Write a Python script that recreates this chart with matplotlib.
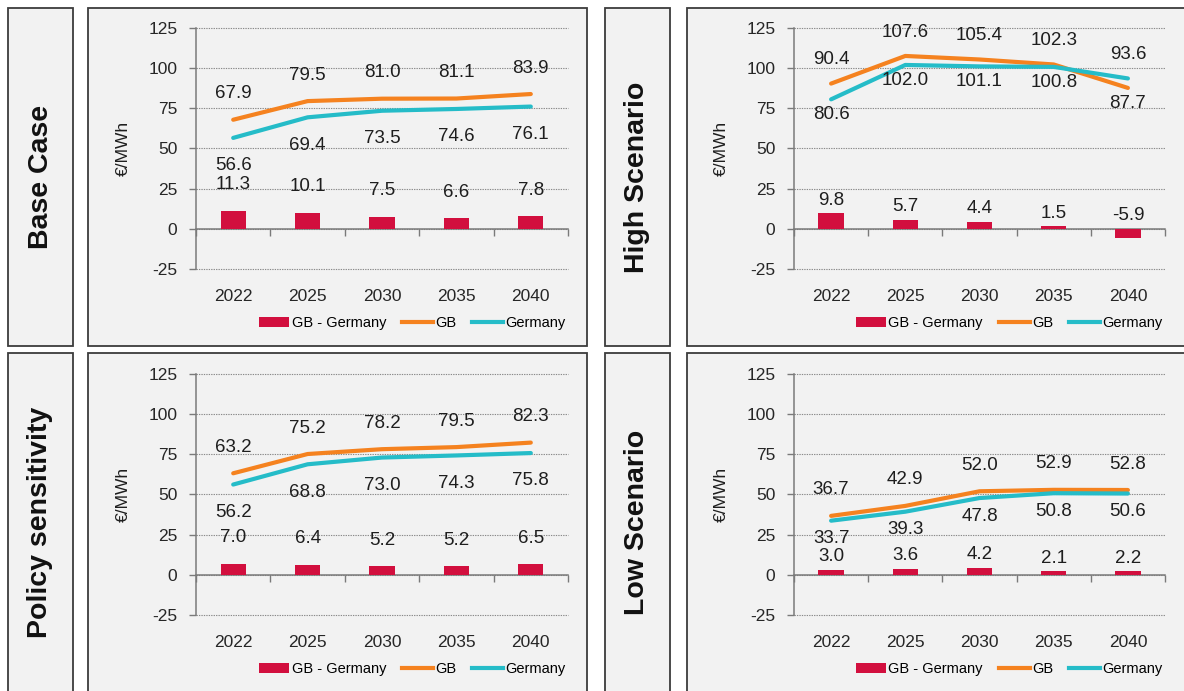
import matplotlib
matplotlib.use("Agg")
import matplotlib.pyplot as plt
from matplotlib.patches import Rectangle
from matplotlib.lines import Line2D
from matplotlib.ticker import FixedLocator

plt.rcParams['font.family'] = ['Liberation Sans', 'DejaVu Sans']

# ---- data -----------------------------------------------------------------
years = ['2022', '2025', '2030', '2035', '2040']
y_ticks = [-25, 0, 25, 50, 75, 100, 125]

base_gb = [67.9, 79.5, 81.0, 81.1, 83.9]
base_de = [56.6, 69.4, 73.5, 74.6, 76.1]
base_diff = [11.3, 10.1, 7.5, 6.6, 7.8]

high_gb = [90.4, 107.6, 105.4, 102.3, 87.7]
high_de = [80.6, 102.0, 101.1, 100.8, 93.6]
high_diff = [9.8, 5.7, 4.4, 1.5, -5.9]

policy_gb = [63.2, 75.2, 78.2, 79.5, 82.3]
policy_de = [56.2, 68.8, 73.0, 74.3, 75.8]
policy_diff = [7.0, 6.4, 5.2, 5.2, 6.5]

low_gb = [36.7, 42.9, 52.0, 52.9, 52.8]
low_de = [33.7, 39.3, 47.8, 50.8, 50.6]
low_diff = [3.0, 3.6, 4.2, 2.1, 2.2]

titles = ['Base Case', 'High Scenario', 'Policy sensitivity', 'Low Scenario']
series_names = ['GB - Germany', 'GB', 'Germany']

# ---- style ----------------------------------------------------------------
C_BAR = '#D20F3E'
C_GB = '#F5821F'
C_DE = '#25BCC8'
C_BOX = '#F2F2F2'
C_EDGE = '#3c3c3c'
C_AXIS = '#7a7a7a'
C_GRID = '#8a8a8a'
C_TEXT = '#1e1e1e'

W, H = 1184, 691
fig = plt.figure(figsize=(W / 100, H / 100), dpi=100)
fig.patch.set_facecolor('white')


def px_rect(x0, y0, x1, y1):
    """Rectangle given in pixel coords measured from the top-left corner."""
    return (x0 / W, 1 - y1 / H, (x1 - x0) / W, (y1 - y0) / H)


def box(x0, y0, x1, y1):
    l, b, w, h = px_rect(x0, y0, x1, y1)
    fig.patches.append(Rectangle((l, b), w, h, transform=fig.transFigure,
                                 facecolor=C_BOX, edgecolor=C_EDGE,
                                 linewidth=1.3, zorder=-5))


# panel frames: (side label box, chart box, axes rect, label offsets)
panels = [
    dict(side=(8, 8, 73, 346), chart=(88, 8, 587, 346),
         ax=(196, 28, 568, 269), gb=base_gb, de=base_de, diff=base_diff,
         up=18.7, down=-20, bar=18.7),
    dict(side=(605, 8, 670, 346), chart=(687, 8, 1195, 346),
         ax=(794, 28, 1165, 269), gb=high_gb, de=high_de, diff=high_diff,
         up=17, down=-11, bar=9.4),
    dict(side=(8, 353, 73, 693), chart=(88, 353, 587, 693),
         ax=(196, 374, 568, 615), gb=policy_gb, de=policy_de, diff=policy_diff,
         up=18.7, down=-20, bar=18.7),
    dict(side=(605, 353, 670, 693), chart=(687, 353, 1195, 693),
         ax=(794, 374, 1165, 615), gb=low_gb, de=low_de, diff=low_diff,
         up=18.7, down=-13, bar=9.5),
]

x = list(range(len(years)))
ymin, ymax = y_ticks[0], y_ticks[-1]

for p, title in zip(panels, titles):
    box(*p['side'])
    box(*p['chart'])
    sx0, sy0, sx1, sy1 = p['side']
    cy = (sy0 + min(sy1, H)) / 2
    fig.text(((sx0 + sx1) / 2) / W, 1 - cy / H, title, rotation=90,
             ha='center', va='center', fontsize=20.5, fontweight='bold',
             color='#111111', zorder=2)

    ax = fig.add_axes(px_rect(*p['ax']))
    ax.set_zorder(1)
    ax.set_facecolor('none')
    ax.set_xlim(-0.5, len(years) - 0.5)
    ax.set_ylim(ymin, ymax)

    # gridlines
    for t in y_ticks:
        ax.axhline(t, color=C_GRID, lw=0.8, ls=(0, (1.2, 1.0)), zorder=1,
                   clip_on=False)

    # bars and lines
    ax.bar(x, p['diff'], width=0.34, color=C_BAR, zorder=3,
           label=series_names[0])
    ax.plot(x, p['gb'], color=C_GB, lw=3, solid_capstyle='round', zorder=4,
            label=series_names[1])
    ax.plot(x, p['de'], color=C_DE, lw=3, solid_capstyle='round', zorder=5,
            label=series_names[2])

    # value labels: the higher line is labelled above, the lower one below
    for i in x:
        g, d = p['gb'][i], p['de'][i]
        hi_v, lo_v = (g, d) if g >= d else (d, g)
        ax.annotate(f'{hi_v:.1f}', (i, hi_v), xytext=(0, p['up']),
                    textcoords='offset points', ha='center', va='center',
                    fontsize=13.5, color=C_TEXT, zorder=6)
        ax.annotate(f'{lo_v:.1f}', (i, lo_v), xytext=(0, p['down']),
                    textcoords='offset points', ha='center', va='center',
                    fontsize=13.5, color=C_TEXT, zorder=6)
        v = p['diff'][i]
        ax.annotate(f'{v:.1f}', (i, max(v, 0)), xytext=(0, p['bar']),
                    textcoords='offset points', ha='center', va='center',
                    fontsize=13.5, color=C_TEXT, zorder=6)

    # axes styling
    for s in ('top', 'right'):
        ax.spines[s].set_visible(False)
    ax.spines['left'].set_color(C_AXIS)
    ax.spines['left'].set_linewidth(1.1)
    ax.spines['bottom'].set_position(('data', 0))
    ax.spines['bottom'].set_color(C_AXIS)
    ax.spines['bottom'].set_linewidth(1.1)

    ax.yaxis.set_major_locator(FixedLocator(y_ticks))
    ax.set_yticklabels([str(t) for t in y_ticks])
    ax.tick_params(axis='y', direction='out', length=5, width=1.0,
                   color=C_AXIS, pad=8.5, labelsize=12.5, labelcolor='#262626')

    # category boundaries get tick marks, centres get the year labels
    ax.xaxis.set_major_locator(FixedLocator([i - 0.5 for i in range(len(years) + 1)]))
    ax.xaxis.set_minor_locator(FixedLocator(x))
    ax.tick_params(axis='x', which='major', direction='out', length=5,
                   width=1.0, color=C_AXIS, labelbottom=False)
    ax.set_xticklabels(years, minor=True)
    ax.tick_params(axis='x', which='minor', length=0, pad=43,
                   labelsize=12.5, labelcolor='#262626')

    ax.set_ylabel('€/MWh', fontsize=12.5, color='#1e1e1e')
    ax.yaxis.set_label_coords(-0.175, 0.5)

    handles = [Rectangle((0, 0), 1, 1, facecolor=C_BAR),
               Line2D([], [], color=C_GB, lw=3),
               Line2D([], [], color=C_DE, lw=3)]
    ax.legend(handles, series_names, loc='center right',
              bbox_to_anchor=(1.0, -0.226), ncol=3, frameon=False,
              fontsize=10.5, handlelength=2.1, handletextpad=0.15,
              columnspacing=1.1, borderaxespad=0, borderpad=0.2)

fig.savefig('out.png', dpi=100, facecolor='white')
